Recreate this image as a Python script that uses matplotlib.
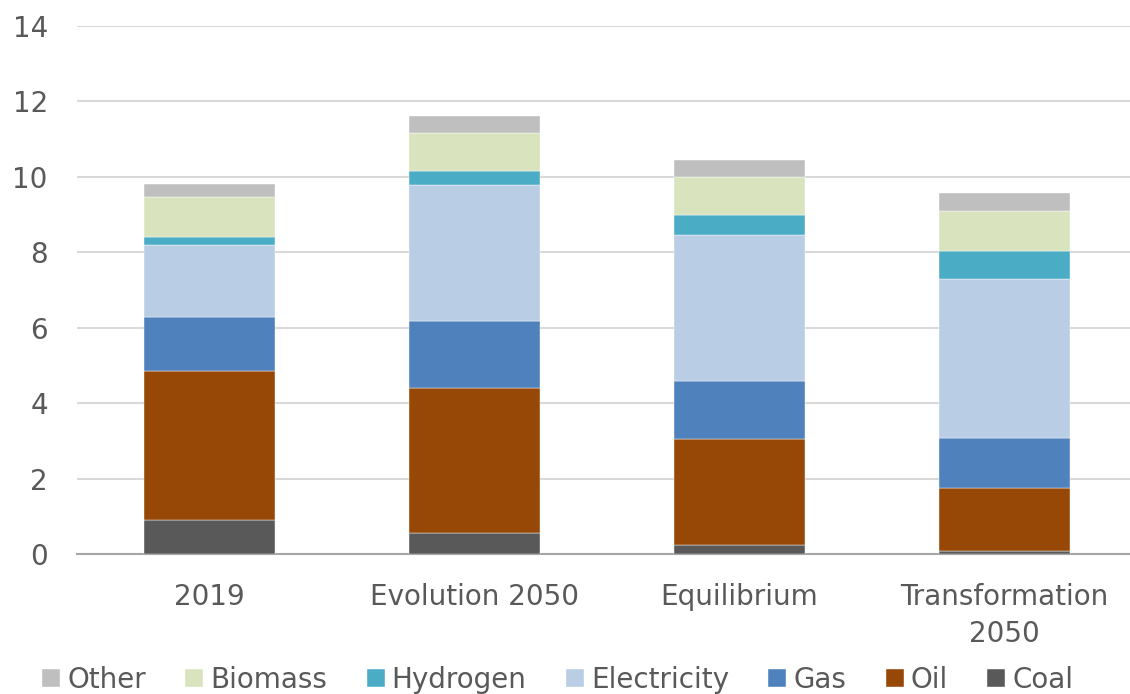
import matplotlib
matplotlib.use("Agg")
import matplotlib.pyplot as plt
import numpy as np

categories = ["2019", "Evolution 2050", "Equilibrium", "Transformation\n2050"]
series_names = ["Coal", "Oil", "Gas", "Electricity", "Hydrogen", "Biomass", "Other"]
coal = [0.90, 0.55, 0.23, 0.07]
oil = [3.96, 3.84, 2.81, 1.67]
gas = [1.43, 1.79, 1.55, 1.33]
electricity = [1.91, 3.60, 3.86, 4.22]
hydrogen = [0.20, 0.38, 0.53, 0.75]
biomass = [1.06, 1.00, 1.01, 1.05]
other = [0.35, 0.45, 0.46, 0.47]
y_ticks = [0, 2, 4, 6, 8, 10, 12, 14]

series = [coal, oil, gas, electricity, hydrogen, biomass, other]
colors = ["#595959", "#974706", "#4F81BD", "#B9CDE5", "#4BACC6", "#D9E4BF", "#BFBFBF"]

plt.rcParams['font.family'] = ['DejaVu Sans']
text_color = "#595959"

fig = plt.figure(figsize=(11.3, 6.94), dpi=100)
ax = fig.add_axes([77 / 1130, 1 - 554 / 694, (1130 - 77) / 1130, (554 - 26) / 694])

x = np.arange(len(categories))
bottom = np.zeros(len(categories))
handles = []
for name, vals, c in zip(series_names, series, colors):
    b = ax.bar(x, vals, width=0.495, bottom=bottom, color=c, label=name,
               edgecolor='white', linewidth=0.3, zorder=3)
    handles.append(b)
    bottom += np.array(vals)

ax.set_xlim(-0.5, -0.5 + (1130 - 77) / 265)
ax.set_ylim(0, 14)
ax.set_yticks(y_ticks)
ax.set_yticklabels([str(t) for t in y_ticks])
ax.set_xticks(x)
ax.set_xticklabels(categories)
ax.yaxis.grid(True, color="#D9D9D9", linewidth=1.5, zorder=0)
ax.set_axisbelow(True)
for s in ["top", "right", "left"]:
    ax.spines[s].set_visible(False)
ax.spines["bottom"].set_color("#A6A6A6")
ax.spines["bottom"].set_linewidth(1.5)
ax.tick_params(axis='both', length=0, labelsize=20, colors=text_color)
ax.tick_params(axis='y', pad=21)
ax.tick_params(axis='x', pad=21)
for lbl in ax.get_xticklabels():
    lbl.set_linespacing(1.38)

leg = fig.legend(handles[::-1], series_names[::-1], loc='lower center',
                 bbox_to_anchor=(0.4935, -0.036), ncol=7, frameon=False,
                 fontsize=20, handlelength=0.65, handleheight=0.65,
                 handletextpad=0.25, columnspacing=1.42, labelcolor=text_color)

fig.savefig("out.png", dpi=100)
